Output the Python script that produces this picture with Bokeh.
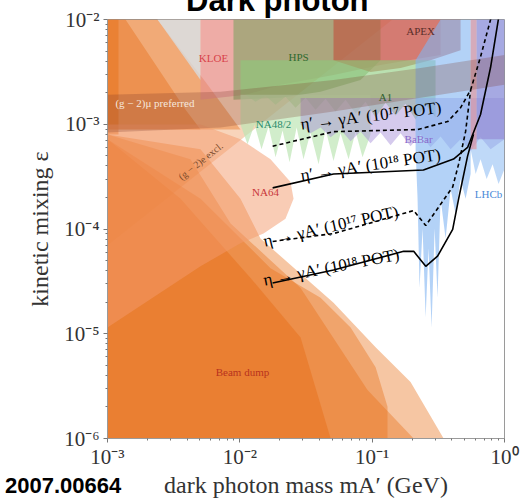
import numpy as np
from bokeh.plotting import figure
from bokeh.models import FixedTicker, CustomJSTickFormatter, Div
from bokeh.core.properties import value
from bokeh.embed import file_html
from bokeh.resources import INLINE

# ---------------- sensitivity curves (mass in GeV, epsilon) ----------------
etap18_m = [0.0177, 0.0511, 0.244, 0.412, 0.526, 0.659, 0.785, 0.92]
etap18_eps = [2.47e-4, 3.35e-4, 3.66e-4, 4.65e-4, 6.0e-4, 1.24e-3, 3.5e-3, 1.2e-2]
etap17_m = [0.0177, 0.0511, 0.22, 0.372, 0.466, 0.555, 0.659, 0.785, 0.80]
etap17_eps = [6.17e-4, 8.5e-4, 8.9e-4, 1.06e-3, 1.44e-3, 2.13e-3, 4.4e-3, 1.0e-2, 1.2e-2]
eta17_m = [0.0177, 0.0511, 0.206, 0.254, 0.406, 0.45, 0.508, 0.555]
eta17_eps = [7.6e-5, 9.05e-5, 1.5e-4, 1.08e-4, 2.52e-4, 4.16e-4, 8.5e-4, 2.13e-3]
eta18_m = [0.0177, 0.0511, 0.173, 0.206, 0.254, 0.312, 0.406, 0.45, 0.526, 0.583]
eta18_eps = [3.05e-5, 4.06e-5, 6.12e-5, 6.12e-5, 4.4e-5, 5.5e-5, 9.9e-5, 1.94e-4, 4.96e-4, 8.0e-4]

# ---------------- excluded regions (log10 mass, log10 epsilon) ----------------
bd_outer_lm = [-3.0, -2.297, -1.995, -1.844, -1.292, -0.974, -0.710, -0.460, -3.0]
bd_outer_le = [-3.097, -3.239, -3.712, -4.090, -4.705, -5.130, -5.461, -6.0, -6.0]
bd_mid_lm = [-3.0, -2.373, -2.070, -1.541, -1.035, -0.687, -3.0]
bd_mid_le = [-3.097, -3.333, -3.948, -4.563, -5.537, -6.0, -6.0]
bd_round_lm = [-3.0, -2.297, -1.768, -1.390, -1.163, -0.974, -0.884, -0.884, -3.0]
bd_round_le = [-3.144, -3.712, -4.374, -4.657, -4.941, -5.319, -5.697, -6.0, -6.0]
bd_core_lm = [-3.0, -2.448, -1.919, -1.541, -1.314, -3.0]
bd_core_le = [-3.144, -3.712, -4.468, -5.035, -6.0, -6.0]
bd_top_lm = [-3.0, -2.622, -2.259, -1.995, -3.0]
bd_top_le = [-2.0, -2.0, -2.596, -3.050, -3.050]
bd_top2_lm = [-3.0, -2.864, -2.410, -2.297, -3.0]
bd_top2_le = [-2.0, -2.0, -2.861, -3.050, -3.050]
bd_strip_lm = [-3.0, -2.917, -2.917, -3.0]
bd_strip_le = [-2.0, -2.0, -3.097, -3.097]
g2e_lm = [-3.0, -0.846, -3.0]
g2e_le = [-2.0, -2.0, -4.156]
na64_lm = [-3.0, -2.297, -1.995, -1.768, -1.617, -1.594, -1.655, -1.821, -1.995, -2.297, -3.0]
na64_le = [-3.002, -3.002, -3.144, -3.333, -3.551, -3.712, -3.901, -4.043, -4.137, -4.355, -4.941]
gray_lm = [-2.622, -2.297, -2.297]
gray_le = [-2.0, -2.0, -2.577]
kloe_lm = [-2.297, -0.483, -0.483, -0.937, -1.292, -1.692, -1.957, -2.297]
kloe_le = [-2.0, -2.0, -2.340, -2.435, -2.530, -2.624, -2.719, -2.766]
hps_lm = [-2.048, -0.937, -0.937, -1.088, -1.390, -1.692, -2.048]
hps_le = [-2.0, -2.0, -2.388, -2.577, -2.690, -2.747, -2.766]
apex_lm = [-1.292, -0.332, -0.332, -0.559, -0.785, -1.012, -1.292]
apex_le = [-2.0, -2.0, -2.293, -2.388, -2.463, -2.501, -2.388]
a1_lm = [-1.995, -0.521, -0.521, -0.596, -0.672, -0.748, -0.823, -0.899, -0.974, -1.050, -1.125,
         -1.201, -1.277, -1.352, -1.428, -1.503, -1.579, -1.655, -1.730, -1.806, -1.881, -1.957, -1.995]
a1_le = [-2.388, -2.388, -2.936, -2.813, -2.955, -2.804, -2.917, -2.794, -2.936, -2.785, -2.898,
         -2.766, -2.879, -2.757, -2.861, -2.747, -2.842, -2.738, -2.813, -2.728, -2.785, -2.719, -2.719]
na48_lm = [-1.995, -1.012, -1.012, -1.073, -1.125, -1.178, -1.239, -1.292, -1.352, -1.405, -1.466,
           -1.519, -1.571, -1.624, -1.677, -1.730, -1.783, -1.836, -1.889, -1.942, -1.995]
na48_le = [-2.719, -2.719, -3.097, -3.314, -3.069, -3.333, -3.087, -3.352, -3.050, -3.381, -3.078,
           -3.333, -3.031, -3.362, -3.059, -3.314, -3.021, -3.239, -3.002, -3.191, -3.002]
babar_lm = [-1.541, 0.0, 0.0, -0.105, -0.181, -0.256, -0.332, -0.407, -0.483, -0.559, -0.634, -0.710,
            -0.785, -0.861, -0.937, -1.012, -1.088, -1.163, -1.239, -1.314, -1.390, -1.466, -1.541]
babar_le = [-2.75, -2.75, -3.144, -3.239, -3.125, -3.258, -3.144, -3.239, -3.116, -3.220, -3.097, -3.210,
            -3.087, -3.201, -3.078, -3.182, -3.069, -3.163, -3.050, -3.125, -3.031, -3.087, -3.002]
lhcb_lm = [-0.672, -0.483, -0.256, -0.256, -0.294, -0.332, -0.370, -0.407, -0.445, -0.483, -0.506,
           -0.528, -0.551, -0.574, -0.596, -0.619, -0.642, -0.657, -0.672]
lhcb_le = [-2.388, -2.0, -2.0, -3.475, -3.712, -3.522, -3.853, -3.617, -4.090, -3.712, -4.657,
           -3.995, -4.941, -4.184, -4.846, -3.995, -4.563, -3.712, -3.239]
lhcb2_lm = [-0.256, 0.0, 0.0, -0.045, -0.090, -0.135, -0.181, -0.218, -0.256]
lhcb2_le = [-2.0, -2.0, -3.428, -3.570, -3.381, -3.522, -3.333, -3.475, -3.239]
purple_lm = [-0.211, 0.0, 0.0, -0.211]
purple_le = [-2.0, -2.0, -3.144, -3.144]
pink_lm = [-0.256, -0.211, -0.211, -0.256]
pink_le = [-2.0, -2.0, -3.239, -3.239]
g2mu_lm = [-3.0, -2.146, -1.292, -0.634, 0.0, 0.0, -0.634, -1.292, -2.146, -3.0]
g2mu_le = [-2.719, -2.690, -2.577, -2.463, -2.340, -2.624, -2.747, -2.879, -3.031, -3.078]

x_ticks = [1e-3, 1e-2, 1e-1, 1.0]
y_ticks = [1e-6, 1e-5, 1e-4, 1e-3, 1e-2]

SERIF = "Liberation Serif"

p = figure(width=520, height=500, x_axis_type="log", y_axis_type="log",
           x_range=(1e-3, 1.0), y_range=(1e-6, 1e-2), title=None,
           output_backend="svg", toolbar_location=None,
           min_border_left=107, min_border_right=16, min_border_top=19, min_border_bottom=58)
p.styles = {"position": "absolute", "top": "0px", "left": "0px"}
p.grid.visible = False
p.background_fill_color = "white"
p.outline_line_color = "#9a9a9a"


def region(lm, le, color, alpha):
    p.patch(np.power(10.0, lm), np.power(10.0, le), fill_color=color, fill_alpha=alpha, line_color=None)


ORANGE = "#E8701A"
region(bd_outer_lm, bd_outer_le, ORANGE, 0.4)
region(bd_mid_lm, bd_mid_le, ORANGE, 0.4)
region(bd_round_lm, bd_round_le, ORANGE, 0.4)
region(bd_core_lm, bd_core_le, ORANGE, 0.5)
region(bd_top_lm, bd_top_le, ORANGE, 0.42)
region(bd_top2_lm, bd_top2_le, ORANGE, 0.42)
region(bd_strip_lm, bd_strip_le, ORANGE, 0.5)
region(g2e_lm, g2e_le, ORANGE, 0.3)
region(na64_lm, na64_le, "#F39A6B", 0.5)
region(gray_lm, gray_le, "#D8D8D8", 0.85)
region(kloe_lm, kloe_le, "#E58A96", 0.55)
region(hps_lm, hps_le, "#6A9F55", 0.5)
region(apex_lm, apex_le, "#C24E3A", 0.6)
region(a1_lm, a1_le, "#8CCB7C", 0.6)
region(na48_lm, na48_le, "#BDE6B5", 0.7)
region(babar_lm, babar_le, "#A18AD6", 0.45)
region(lhcb_lm, lhcb_le, "#80B4F2", 0.6)
region(lhcb2_lm, lhcb2_le, "#80B4F2", 0.5)
region(purple_lm, purple_le, "#8D7ACB", 0.5)
region(pink_lm, pink_le, "#E58C93", 0.6)
region(g2mu_lm, g2mu_le, "#7A3826", 0.25)

# sensitivity lines
p.line(etap17_m, etap17_eps, line_color="black", line_width=1.6, line_dash="4 3")
p.line(etap18_m, etap18_eps, line_color="black", line_width=1.6)
p.line(eta17_m, eta17_eps, line_color="black", line_width=1.6, line_dash="4 3")
p.line(eta18_m, eta18_eps, line_color="black", line_width=1.6)

# line labels
line_lbl_text = ["η′ → γA′ (10¹⁷ POT)", "η′ → γA′ (10¹⁸ POT)", "η → γA′ (10¹⁷ POT)", "η → γA′ (10¹⁸ POT)"]
line_lbl_m = [10 ** -1.541, 10 ** -1.541, 10 ** -1.821, 10 ** -1.821]
line_lbl_eps = [10 ** -3.0, 10 ** -3.49, 10 ** -4.118, 10 ** -4.49]
line_lbl_angle = [0.12, 0.15, 0.22, 0.19]
p.text(line_lbl_m, line_lbl_eps, text=line_lbl_text, angle=line_lbl_angle,
       text_font=value(SERIF), text_font_size="17px", text_color="black",
       text_align="left", text_baseline="alphabetic")

# region labels
reg_text = ["KLOE", "HPS", "APEX", "A1", "NA48/2", "BaBar", "NA64", "LHCb", "Beam dump"]
reg_m = [10 ** -2.199, 10 ** -1.556, 10 ** -0.634, 10 ** -0.899, 10 ** -1.745, 10 ** -0.649,
         10 ** -1.806, 10 ** -0.120, 10 ** -1.980]
reg_eps = [10 ** -2.369, 10 ** -2.359, 10 ** -2.113, 10 ** -2.738, 10 ** -3.002, 10 ** -3.144,
           10 ** -3.645, 10 ** -3.664, 10 ** -5.366]
reg_color = ["#D8434A", "#2F6B2F", "#5A2E2A", "#2F5F2F", "#2A8A6A", "#8A6ACB", "#C8373A", "#4A8AD8", "#B8321E"]
p.text(reg_m, reg_eps, text=reg_text, text_color=reg_color, text_font=value(SERIF),
       text_font_size="11px", text_align="center", text_baseline="middle")
p.text([10 ** -2.94], [10 ** -2.794], text=["(g − 2)μ preferred"], text_color="#F6E7DC",
       text_font=value(SERIF), text_font_size="11px", text_align="left", text_baseline="middle")
p.text([10 ** -2.297], [10 ** -3.352], text=["(g − 2)e excl."], text_color="#7A4A2A", angle=0.67,
       text_font=value(SERIF), text_font_size="10px", text_align="center", text_baseline="middle")

# axes
sup = CustomJSTickFormatter(code="""
const e = Math.round(Math.log10(tick));
const s = {"-":"⁻","0":"⁰","1":"¹","2":"²","3":"³","4":"⁴","5":"⁵","6":"⁶","7":"⁷","8":"⁸","9":"⁹"};
return "10" + String(e).split("").map(c => s[c]).join("");
""")
p.xaxis.ticker = FixedTicker(ticks=x_ticks, minor_ticks=[k * 10.0 ** e for e in range(-3, 0) for k in range(2, 10)])
p.yaxis.ticker = FixedTicker(ticks=y_ticks, minor_ticks=[k * 10.0 ** e for e in range(-6, -2) for k in range(2, 10)])
for ax in (p.xaxis, p.yaxis):
    ax.formatter = sup
    ax.major_label_text_font = SERIF
    ax.major_label_text_font_size = "21px"
    ax.major_label_text_color = "#333333"
    ax.axis_line_color = "#9a9a9a"
    ax.major_tick_line_color = "#777777"
    ax.minor_tick_line_color = "#777777"
    ax.major_tick_out = 4
    ax.major_tick_in = 0
    ax.minor_tick_out = 2
    ax.minor_tick_in = 0
    ax.axis_label_text_font = SERIF
    ax.axis_label_text_font_size = "24px"
    ax.axis_label_text_font_style = "normal"
    ax.axis_label_text_color = "#333333"
p.xaxis.major_label_standoff = 2
p.yaxis.major_label_standoff = 4
p.xaxis.axis_label = "dark photon mass mA′ (GeV)"
p.xaxis.axis_label_standoff = 0
p.yaxis.axis_label = "kinetic mixing ε"
p.yaxis.axis_label_standoff = 8

# page texts (title at the top edge, paper id in the lower-left corner)
title_div = Div(text="<span style=\"font: bold 31px 'Liberation Sans', sans-serif; line-height: 31px; "
                     "white-space: nowrap; color: black;\">Dark photon</span>",
                width=230, height=31,
                styles={"position": "absolute", "left": "186px", "top": "-15px", "margin": "0px"})
id_div = Div(text="<span style=\"font: bold 22px 'Liberation Sans', sans-serif; line-height: 22px; "
                  "white-space: nowrap; color: black;\">2007.00664</span>",
             width=150, height=22,
             styles={"position": "absolute", "left": "5px", "top": "475px", "margin": "0px"})

open("out.html", "w").write(file_html([p, title_div, id_div], INLINE))
